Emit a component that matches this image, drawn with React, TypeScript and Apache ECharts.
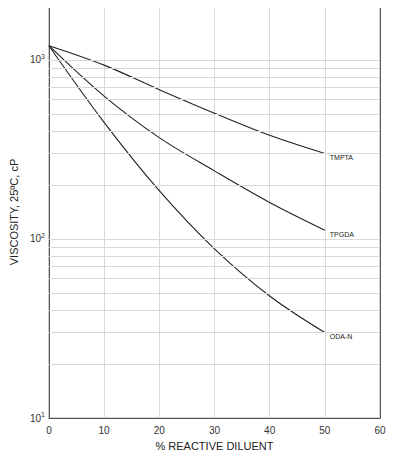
import React, { useEffect, useRef } from "react";
import * as echarts from "echarts";

const diluentPct = [0, 10, 20, 30, 40, 50];
const tmpta = [1200, 935, 682, 504, 379, 300];
const tpgda = [1200, 628, 368, 240, 160, 112];
const odaN = [1200, 448, 186, 88, 48, 30];
const seriesNames = ["TMPTA", "TPGDA", "ODA-N"];
const minorGrid = [20, 30, 40, 50, 60, 70, 80, 90, 100, 200, 300, 400, 500, 600, 700, 800, 900, 1000];
const xTicks = [0, 10, 20, 30, 40, 50, 60];

const FONT = "Liberation Sans, Arial, sans-serif";

export default function App() {
  const ref = useRef<HTMLDivElement>(null);
  useEffect(() => {
    if (!ref.current) return;
    const chart = echarts.init(ref.current, null, { renderer: "svg" });
    const mk = (vals: number[]) => diluentPct.map((x, i) => [x, vals[i]]);
    const all = [tmpta, tpgda, odaN];
    const series: any[] = all.map((vals, i) => ({
      name: seriesNames[i],
      type: "line",
      data: mk(vals),
      smooth: 0.35,
      symbol: "none",
      lineStyle: { color: "#222", width: 1.1 },
      endLabel: {
        show: true,
        formatter: seriesNames[i],
        fontSize: 7,
        fontFamily: FONT,
        color: "#222",
        distance: 5,
        offset: [0, 4],
      },
      markLine:
        i === 0
          ? {
              silent: true,
              symbol: "none",
              label: { show: false },
              lineStyle: { color: "#d9d9d9", type: "solid", width: 1 },
              data: minorGrid.map((v) => ({ yAxis: v })),
            }
          : undefined,
      z: 3,
    }));
    chart.setOption({
      animation: false,
      textStyle: { fontFamily: FONT },
      grid: {
        left: 46,
        right: 15,
        top: 6,
        bottom: 45,
        show: true,
        borderColor: "#aaa",
        borderWidth: 1,
      },
      xAxis: [
        {
          type: "value",
          min: xTicks[0],
          max: xTicks[xTicks.length - 1],
          interval: 10,
          name: "% REACTIVE DILUENT",
          nameLocation: "middle",
          nameGap: 22,
          nameTextStyle: { fontSize: 11, color: "#222", fontFamily: FONT },
          axisLine: { show: true, lineStyle: { color: "#555", width: 1 } },
          axisTick: { show: false },
          axisLabel: { fontSize: 10, color: "#333", margin: 7, fontFamily: FONT },
          splitLine: { show: true, lineStyle: { color: "#d9d9d9", width: 1 } },
        },
      ],
      yAxis: [
        {
          type: "log",
          logBase: 10,
          min: 10,
          max: 2000,
          name: "VISCOSITY, 25ºC, cP",
          nameLocation: "middle",
          nameGap: 25,
          nameTextStyle: { fontSize: 11, color: "#222", fontFamily: FONT },
          axisLine: { show: true, lineStyle: { color: "#555", width: 1 } },
          axisTick: { show: false },
          splitLine: { show: false },
          axisLabel: {
            margin: 4,
            showMaxLabel: false,
            formatter: (v: number) => {
              const e = Math.log10(v);
              if (Math.abs(e - Math.round(e)) > 1e-6) return "";
              return `{b|10}{s|${Math.round(e)}}`;
            },
            rich: {
              b: { fontSize: 10, color: "#333", fontFamily: FONT, lineHeight: 14 },
              s: { fontSize: 7, color: "#333", fontFamily: FONT, verticalAlign: "top", lineHeight: 10 },
            },
          },
        },
        {
          type: "log",
          logBase: 10,
          min: 10,
          max: 2000,
          position: "right",
          axisLine: { show: true, lineStyle: { color: "#555", width: 1 } },
          axisTick: { show: false },
          axisLabel: { show: false },
          splitLine: { show: false },
        },
      ],
      series,
    });
    return () => chart.dispose();
  }, []);
  return <div ref={ref} style={{ width: 395, height: 463, margin: -8 }} />;
}
